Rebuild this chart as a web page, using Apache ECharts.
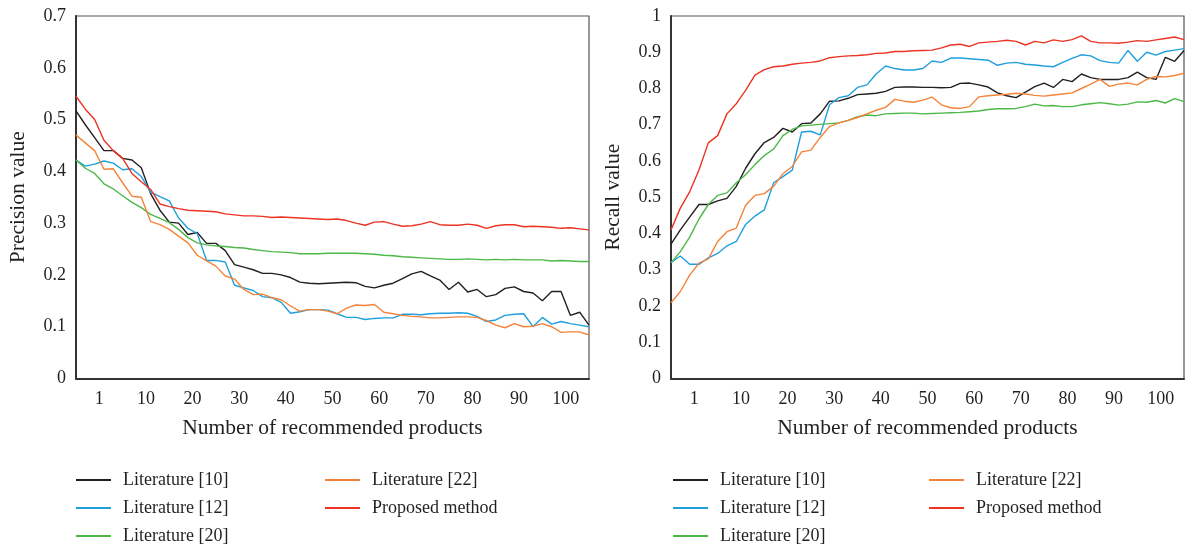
<!DOCTYPE html>
<html>
<head>
<meta charset="utf-8">
<script src="https://cdn.jsdelivr.net/npm/echarts@6/dist/echarts.min.js"></script>
<style>
  html, body { margin: 0; padding: 0; background: #fff; }
  #chart { width: 1187px; height: 550px; }
</style>
</head>
<body>
<div id="chart"></div>
<script>
// x tick labels (equally spaced bands)
const xLabels = ['1', '10', '20', '30', '40', '50', '60', '70', '80', '90', '100'];
const seriesNames = ['Literature [10]', 'Literature [12]', 'Literature [20]', 'Literature [22]', 'Proposed method'];
const seriesColors = ['#231f20', '#1f9fdc', '#4cb848', '#f5833a', '#ec3324'];

// precision samples (56 equally spaced samples across the plot)
const precLit10 = [0.517, 0.49, 0.465, 0.44, 0.44, 0.425, 0.422, 0.407, 0.357, 0.325, 0.302, 0.30, 0.278, 0.282, 0.261, 0.261, 0.247, 0.22, 0.215, 0.21, 0.203, 0.203, 0.2, 0.195, 0.186, 0.184, 0.183, 0.184, 0.185, 0.186, 0.185, 0.178, 0.175, 0.18, 0.184, 0.193, 0.202, 0.207, 0.198, 0.19, 0.172, 0.186, 0.167, 0.172, 0.158, 0.162, 0.174, 0.177, 0.168, 0.165, 0.15, 0.168, 0.168, 0.122, 0.128, 0.103];
const precLit12 = [0.422, 0.41, 0.414, 0.42, 0.416, 0.403, 0.405, 0.39, 0.36, 0.351, 0.343, 0.31, 0.29, 0.28, 0.228, 0.228, 0.225, 0.18, 0.175, 0.17, 0.158, 0.156, 0.147, 0.126, 0.129, 0.133, 0.133, 0.132, 0.125, 0.118, 0.118, 0.114, 0.116, 0.117, 0.117, 0.124, 0.124, 0.123, 0.125, 0.126, 0.126, 0.127, 0.126, 0.12, 0.11, 0.113, 0.122, 0.124, 0.125, 0.1, 0.118, 0.105, 0.11, 0.106, 0.103, 0.1];
const precLit20 = [0.422, 0.406, 0.396, 0.376, 0.366, 0.353, 0.34, 0.33, 0.317, 0.309, 0.301, 0.288, 0.272, 0.262, 0.258, 0.256, 0.255, 0.253, 0.252, 0.249, 0.247, 0.245, 0.244, 0.243, 0.241, 0.241, 0.241, 0.242, 0.242, 0.242, 0.242, 0.241, 0.24, 0.238, 0.237, 0.235, 0.234, 0.233, 0.232, 0.231, 0.23, 0.23, 0.231, 0.23, 0.229, 0.23, 0.229, 0.23, 0.229, 0.229, 0.229, 0.227, 0.228, 0.227, 0.226, 0.226];
const precLit22 = [0.47, 0.455, 0.44, 0.404, 0.405, 0.378, 0.352, 0.35, 0.303, 0.297, 0.288, 0.275, 0.262, 0.238, 0.227, 0.217, 0.198, 0.192, 0.172, 0.162, 0.163, 0.156, 0.152, 0.14, 0.13, 0.133, 0.133, 0.13, 0.125, 0.136, 0.142, 0.141, 0.143, 0.128, 0.125, 0.122, 0.12, 0.119, 0.117, 0.117, 0.118, 0.119, 0.119, 0.118, 0.112, 0.103, 0.098, 0.106, 0.1, 0.101, 0.106, 0.1, 0.089, 0.09, 0.09, 0.084];
const precProposed = [0.545, 0.52, 0.50, 0.46, 0.44, 0.425, 0.396, 0.38, 0.365, 0.337, 0.332, 0.328, 0.325, 0.324, 0.323, 0.322, 0.318, 0.316, 0.314, 0.314, 0.313, 0.311, 0.312, 0.311, 0.31, 0.309, 0.308, 0.307, 0.308, 0.305, 0.3, 0.296, 0.302, 0.303, 0.298, 0.294, 0.295, 0.298, 0.303, 0.297, 0.296, 0.296, 0.298, 0.296, 0.29, 0.295, 0.297, 0.297, 0.293, 0.294, 0.293, 0.292, 0.29, 0.291, 0.289, 0.287];

// recall samples
const recLit10 = [0.371, 0.41, 0.445, 0.48, 0.48, 0.49, 0.497, 0.53, 0.58, 0.62, 0.651, 0.665, 0.69, 0.68, 0.703, 0.705, 0.73, 0.765, 0.766, 0.773, 0.783, 0.785, 0.787, 0.792, 0.803, 0.804, 0.804, 0.803, 0.803, 0.802, 0.803, 0.814, 0.815, 0.81, 0.804, 0.788, 0.78, 0.775, 0.79, 0.805, 0.815, 0.803, 0.825, 0.819, 0.84, 0.83, 0.825, 0.825, 0.825, 0.83, 0.845, 0.83, 0.825, 0.886, 0.875, 0.905];
const recLit12 = [0.32, 0.338, 0.315, 0.315, 0.333, 0.345, 0.366, 0.378, 0.425, 0.448, 0.465, 0.54, 0.557, 0.575, 0.68, 0.682, 0.672, 0.755, 0.775, 0.78, 0.803, 0.81, 0.84, 0.862, 0.855, 0.851, 0.851, 0.855, 0.876, 0.872, 0.884, 0.884, 0.882, 0.88, 0.878, 0.864, 0.87, 0.872, 0.867, 0.865, 0.862, 0.86, 0.872, 0.883, 0.893, 0.89, 0.877, 0.872, 0.87, 0.905, 0.875, 0.9, 0.892, 0.902, 0.906, 0.91];
const recLit20 = [0.319, 0.35, 0.39, 0.44, 0.48, 0.505, 0.512, 0.54, 0.562, 0.59, 0.615, 0.633, 0.67, 0.687, 0.697, 0.699, 0.701, 0.703, 0.705, 0.712, 0.722, 0.727, 0.725, 0.73, 0.731, 0.732, 0.732, 0.73, 0.731, 0.732, 0.733, 0.734, 0.736, 0.738, 0.742, 0.744, 0.744, 0.745, 0.75, 0.757, 0.752, 0.753, 0.75, 0.75, 0.755, 0.758, 0.761, 0.758, 0.754, 0.757, 0.763, 0.762, 0.767, 0.76, 0.772, 0.764];
const recLit22 = [0.209, 0.24, 0.285, 0.318, 0.33, 0.378, 0.405, 0.415, 0.478, 0.505, 0.51, 0.53, 0.565, 0.585, 0.625, 0.63, 0.665, 0.695, 0.705, 0.712, 0.72, 0.73, 0.74, 0.748, 0.77, 0.765, 0.762, 0.768, 0.776, 0.755, 0.747, 0.745, 0.75, 0.777, 0.78, 0.782, 0.784, 0.787, 0.785, 0.781, 0.779, 0.782, 0.785, 0.788, 0.8, 0.812, 0.825, 0.806, 0.812, 0.815, 0.81, 0.825, 0.833, 0.832, 0.836, 0.842];
const recProposed = [0.41, 0.47, 0.515, 0.575, 0.65, 0.67, 0.73, 0.758, 0.795, 0.837, 0.852, 0.86, 0.862, 0.867, 0.87, 0.872, 0.876, 0.885, 0.888, 0.89, 0.891, 0.893, 0.897, 0.898, 0.902, 0.902, 0.904, 0.905, 0.906, 0.912, 0.92, 0.922, 0.916, 0.926, 0.928, 0.93, 0.933, 0.93, 0.92, 0.93, 0.926, 0.934, 0.93, 0.935, 0.945, 0.93, 0.926, 0.926, 0.925, 0.928, 0.932, 0.93, 0.934, 0.938, 0.942, 0.935];

const sampleIdx = precLit10.map((v, i) => i);

const chart = echarts.init(document.getElementById('chart'));
const font = "'Liberation Serif', 'DejaVu Serif', serif";
const textColor = '#231f20';

function panelAxes(gridIndex) {
    return [
        {
            type: 'category', gridIndex: gridIndex, data: xLabels, boundaryGap: true,
            name: 'Number of recommended products', nameLocation: 'middle', nameGap: 39,
            nameTextStyle: { fontFamily: font, fontSize: 21.5, color: textColor },
            axisLine: { lineStyle: { color: '#333', width: 2 } },
            axisTick: { show: false },
            axisLabel: { fontFamily: font, fontSize: 18, color: textColor, margin: 12 }
        },
        {
            type: 'category', gridIndex: gridIndex, data: sampleIdx, boundaryGap: false, show: false
        }
    ];
}

function yAxis(gridIndex, max, title) {
    return {
        type: 'value', gridIndex: gridIndex, min: 0, max: max, interval: 0.1,
        name: title, nameLocation: 'middle', nameGap: 47,
        nameTextStyle: { fontFamily: font, fontSize: 21.5, color: textColor },
        splitLine: { show: false },
        axisTick: { show: false },
        axisLine: { show: true, lineStyle: { color: '#333', width: 2 } },
        axisLabel: { fontFamily: font, fontSize: 18, color: textColor, margin: 10 }
    };
}

function lineSeries(name, data, xIdx, yIdx, color) {
    return {
        name: name, type: 'line', data: data, xAxisIndex: xIdx, yAxisIndex: yIdx,
        symbol: 'none', smooth: false,
        lineStyle: { color: color, width: 1.4 },
        itemStyle: { color: color }
    };
}

function legend(left, names) {
    return {
        orient: 'vertical', left: left, top: 466, data: names,
        icon: 'rect', itemWidth: 35, itemHeight: 2, itemGap: 10,
        textStyle: { fontFamily: font, fontSize: 18, color: textColor, padding: [0, 0, 0, 7] }
    };
}

const precData = [precLit10, precLit12, precLit20, precLit22, precProposed];
const recData = [recLit10, recLit12, recLit20, recLit22, recProposed];
const series = [];
seriesNames.forEach((n, k) => series.push(lineSeries(n, precData[k], 1, 0, seriesColors[k])));
seriesNames.forEach((n, k) => series.push(lineSeries(n, recData[k], 3, 1, seriesColors[k])));

const option = {
    animation: false,
    grid: [
        { left: 76, right: 598, top: 16, bottom: 171.5, show: true, borderColor: '#555', borderWidth: 1.2 },
        { left: 671, right: 3, top: 16, bottom: 171.5, show: true, borderColor: '#555', borderWidth: 1.2 }
    ],
    xAxis: panelAxes(0).concat(panelAxes(1)),
    yAxis: [yAxis(0, 0.7, 'Precision value'), yAxis(1, 1, 'Recall value')],
    legend: [
        legend(71, seriesNames.slice(0, 3)),
        legend(320, seriesNames.slice(3)),
        legend(668, seriesNames.slice(0, 3)),
        legend(924, seriesNames.slice(3))
    ],
    series: series
};
chart.setOption(option);
</script>
</body>
</html>
